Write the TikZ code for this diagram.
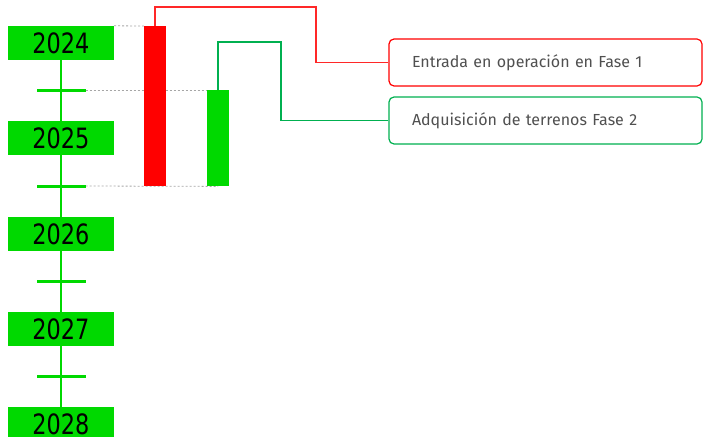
\documentclass[tikz,border=0pt]{standalone}
\usepackage{fontspec}
\setmainfont{DejaVu Sans}
\newfontfamily\labelfont{Fira Sans}
\usetikzlibrary{backgrounds}
\definecolor{yeargreen}{RGB}{0,217,0}
\definecolor{linkgreen}{RGB}{0,176,80}
\definecolor{linkred}{RGB}{255,40,40}
\definecolor{labelgray}{RGB}{80,80,80}

\begin{document}
\begin{tikzpicture}[x=1pt,y=-1pt]
\tikzset{
  yearnode/.style={rectangle,fill=yeargreen,minimum width=106pt,minimum height=34pt,inner sep=0pt,font=\fontsize{28}{28}\selectfont},
  ticknode/.style={rectangle,fill=yeargreen,minimum width=49pt,minimum height=3pt,inner sep=0pt},
  barnode/.style={rectangle,minimum width=22pt,inner sep=0pt,anchor=north},
  labelnode/.style={rectangle,rounded corners=5pt,line width=1.2pt,fill=white,minimum width=313pt,minimum height=47pt,inner xsep=23pt,inner ysep=0pt,text width=267pt,align=left,font=\labelfont\fontsize{16}{18}\selectfont,text=labelgray},
  axisline/.style={draw=yeargreen,line width=2pt},
  guideline/.style={draw=gray!70,line width=0.8pt,dash pattern=on 2pt off 2pt},
  linkline/.style={line width=1.1pt}
}
\useasboundingbox (0,0) rectangle (708,436);
% timeline
\node[yearnode] (n_y2024) at (61,43) {\scalebox{0.8}[1]{2024}};
\node[yearnode] (n_y2025) at (61,138) {\scalebox{0.8}[1]{2025}};
\node[yearnode] (n_y2026) at (61,234) {\scalebox{0.8}[1]{2026}};
\node[yearnode] (n_y2027) at (61,329) {\scalebox{0.8}[1]{2027}};
\node[yearnode] (n_y2028) at (61,424) {\scalebox{0.8}[1]{2028}};
\node[ticknode] (n_t1) at (61,90) {};
\node[ticknode] (n_t2) at (61,186) {};
\node[ticknode] (n_t3) at (61,281) {};
\node[ticknode] (n_t4) at (61,376) {};
\foreach \a/\b in {2024/2025,2025/2026,2026/2027,2027/2028}
  \draw[axisline] (n_y\a.south) -- (n_y\b.north);
% bars
\node[barnode,fill=red,minimum height=160pt] (n_bar1) at (155,26) {};
\node[barnode,fill=yeargreen,minimum height=96pt] (n_bar2) at (218,90) {};
\begin{scope}[on background layer]
\draw[guideline] (n_y2024.north east) -- (n_bar1.north west);
\draw[guideline] (n_t1.east) -- (n_bar2.north west);
\draw[guideline] (n_t2.east) -- (n_bar2.south);
\end{scope}
% labels
\node[labelnode,draw=red] (n_lbl1) at (545.5,62.5) {Entrada en operación en Fase 1};
\node[labelnode,draw=linkgreen] (n_lbl2) at (545.5,120.5) {Adquisición de terrenos Fase 2};
\draw[linkline,draw=linkred] (n_bar1.north) |- (316,7) |- (n_lbl1.west);
\draw[linkline,draw=linkgreen] (n_bar2.north) |- (281,42) |- (n_lbl2.west);
\end{tikzpicture}
\end{document}
